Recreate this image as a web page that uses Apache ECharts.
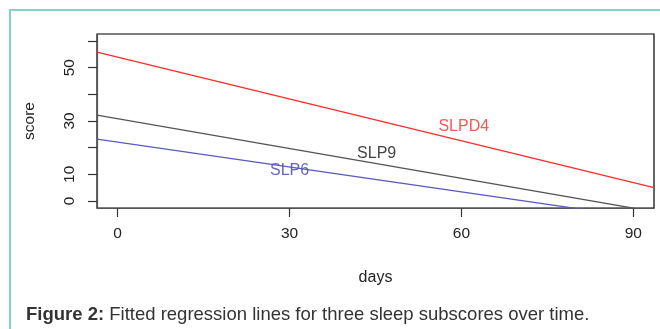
<!DOCTYPE html>
<html>
<head>
<meta charset="utf-8">
<script src="https://cdn.jsdelivr.net/npm/echarts@6/dist/echarts.min.js"></script>
<style>
    html, body { margin: 0; padding: 0; background: #fff; }
    #frame {
        position: absolute; left: 9px; top: 9px; width: 660px; height: 340px;
        border-top: 2px solid #7fd6c6; border-left: 2px solid #7fd6c6;
    }
    #chart { position: absolute; left: 0; top: 0; width: 660px; height: 329px; }
</style>
</head>
<body>
<div id="frame"></div>
<div id="chart"></div>
<script>
const days = [-3.6, 93.6];
const slpd4 = [55.8, 5.0];
const slp9 = [32.2, -4.0];
const slp6 = [23.2, -7.0];

// Text labels placed in data coordinates
const labelNames = ['SLPD4', 'SLP9', 'SLP6'];
const labelPos = [[60.4, 27.8], [45.2, 17.6], [30.0, 11.6]];
const labelColors = ['#ff2a2a', '#111111', '#3d3db0'];

const xTicks = [0, 30, 60, 90];
const yTicks = [0, 10, 20, 30, 40, 50, 60];
const yTickLabels = [0, 10, 30, 50];

const chart = echarts.init(document.getElementById('chart'));

const lineSeries = (name, vals, color) => ({
    name: name,
    type: 'line',
    data: days.map((d, i) => [d, vals[i]]),
    showSymbol: false,
    clip: true,
    lineStyle: { color: color, width: 1.3 },
    silent: true,
    animation: false
});

chart.setOption({
    animation: false,
    title: {
        text: '{b|Figure 2:} Fitted regression lines for three sleep subscores over time.',
        left: 21,
        top: 300,
        textStyle: {
            fontFamily: 'Liberation Sans',
            fontSize: 18.5,
            fontWeight: 'normal',
            color: '#333',
            rich: {
                b: { fontFamily: 'Liberation Sans', fontSize: 18.5, fontWeight: 'bold', color: '#333' }
            }
        }
    },
    grid: {
        left: 97, top: 34, right: 6, bottom: 121,
        show: true, borderColor: '#000', borderWidth: 1.2, backgroundColor: 'transparent'
    },
    xAxis: {
        type: 'value',
        min: -3.6, max: 93.6,
        name: 'days',
        nameLocation: 'middle',
        nameGap: 62,
        nameTextStyle: { fontFamily: 'Liberation Sans', fontSize: 16, color: '#222' },
        splitLine: { show: false },
        axisLine: { show: true, onZero: false, lineStyle: { color: '#555', width: 1.2 } },
        axisTick: { show: true, length: 9, customValues: xTicks, lineStyle: { color: '#333', width: 1.2 } },
        axisLabel: {
            customValues: xTicks, margin: 18,
            fontFamily: 'Liberation Sans', fontSize: 15.5, color: '#222'
        }
    },
    yAxis: {
        type: 'value',
        min: -2.6, max: 62.6,
        name: 'score',
        nameLocation: 'middle',
        nameGap: 59,
        nameTextStyle: { fontFamily: 'Liberation Sans', fontSize: 15.5, color: '#222' },
        splitLine: { show: false },
        axisLine: { show: true, onZero: false, lineStyle: { color: '#555', width: 1.2 } },
        axisTick: { show: true, length: 9, customValues: yTicks, lineStyle: { color: '#333', width: 1.2 } },
        axisLabel: {
            customValues: yTickLabels, rotate: 90, margin: 19,
            fontFamily: 'Liberation Sans', fontSize: 15.5, color: '#222'
        }
    },
    series: [
        lineSeries('SLPD4', slpd4, '#ff2a2a'),
        lineSeries('SLP9', slp9, '#555555'),
        lineSeries('SLP6', slp6, '#5a5ac4'),
        {
            type: 'scatter',
            symbolSize: 0,
            silent: true,
            data: labelNames.map((n, i) => ({
                name: n,
                value: labelPos[i],
                label: {
                    show: true, position: 'inside', formatter: n,
                    fontFamily: 'Liberation Sans', fontSize: 16, color: labelColors[i]
                }
            }))
        }
    ]
});
</script>
</body>
</html>
